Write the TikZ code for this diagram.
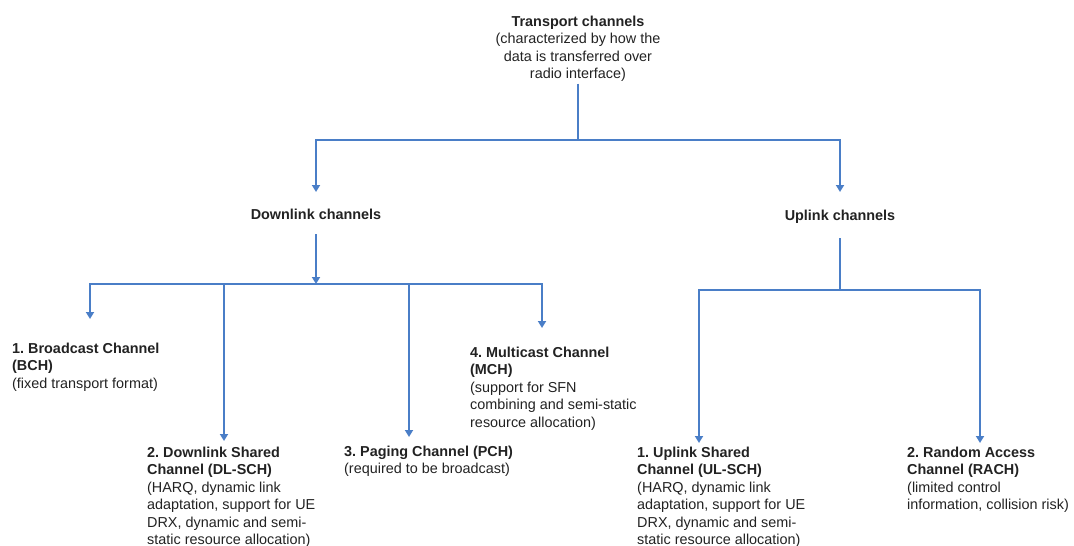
\documentclass[tikz,border=0pt]{standalone}
\usepackage{fontspec}
\setmainfont{Liberation Sans}
\usetikzlibrary{arrows.meta}
\definecolor{linkblue}{RGB}{74,126,199}
\definecolor{txt}{RGB}{34,34,34}
\frenchspacing
\begin{document}
\begin{tikzpicture}[x=1pt,y=-1pt,
  lbl/.style={inner sep=0pt, align=left, anchor=base west, font=\fontsize{14.4}{17.5}\selectfont\frenchspacing, text=txt},
  head/.style={lbl, align=center, anchor=base},
  conn/.style={draw=linkblue, line width=1.8pt},
  arr/.style={conn, -{Triangle[width=8pt,length=7pt]}},
]
\useasboundingbox (0,0) rectangle (1074,546);
% text nodes (positioned by the baseline of their last line)
\node[head] (trans) at (578,78.5) {\textbf{Transport channels}\\(characterized by how the\\data is transferred over\\radio interface)};
\node[head] (down) at (316,219) {\textbf{Downlink channels}};
\node[head] (up) at (840,220) {\textbf{Uplink channels}};
\node[lbl] (bch) at (12,388) {\textbf{1. Broadcast Channel}\\\textbf{(BCH)}\\(fixed transport format)};
\node[lbl] (dlsch) at (147,544.5) {\textbf{2. Downlink Shared}\\\textbf{Channel (DL-SCH)}\\(HARQ, dynamic link\\adaptation, support for UE\\DRX, dynamic and semi-\\static resource allocation)};
\node[lbl] (pch) at (344,473.5) {\textbf{3. Paging Channel (PCH)}\\(required to be broadcast)};
\node[lbl] (mch) at (470,427) {\textbf{4. Multicast Channel}\\\textbf{(MCH)}\\(support for SFN\\combining and semi-static\\resource allocation)};
\node[lbl] (ulsch) at (637,544.5) {\textbf{1. Uplink Shared}\\\textbf{Channel (UL-SCH)}\\(HARQ, dynamic link\\adaptation, support for UE\\DRX, dynamic and semi-\\static resource allocation)};
\node[lbl] (rach) at (907,509.5) {\textbf{2. Random Access}\\\textbf{Channel (RACH)}\\(limited control\\information, collision risk)};
% junctions and arrow ends
\coordinate (tj) at (578,140);
\coordinate (downin) at (316,192);
\coordinate (upin) at (840,192);
\coordinate (dj) at (316,284);
\coordinate (uj) at (840,290);
\coordinate (bchin) at (90,319);
\coordinate (dlschin) at (224,441);
\coordinate (pchin) at (409,437);
\coordinate (mchin) at (542,328);
\coordinate (ulschin) at (699,443);
\coordinate (rachin) at (980,443);
% connectors
\draw[conn, shorten <=2pt] (trans.south) -- (tj);
\draw[arr] (tj) -| (downin);
\draw[arr] (tj) -| (upin);
\draw[arr, shorten <=15pt] (down.south) -- (dj);
\draw[arr] (dj) -| (bchin);
\draw[arr] (dj) -| (dlschin);
\draw[arr] (dj) -| (pchin);
\draw[arr] (dj) -| (mchin);
\draw[conn, shorten <=15pt] (up.south) -- (uj);
\draw[arr] (uj) -| (ulschin);
\draw[arr] (uj) -| (rachin);
\end{tikzpicture}
\end{document}
